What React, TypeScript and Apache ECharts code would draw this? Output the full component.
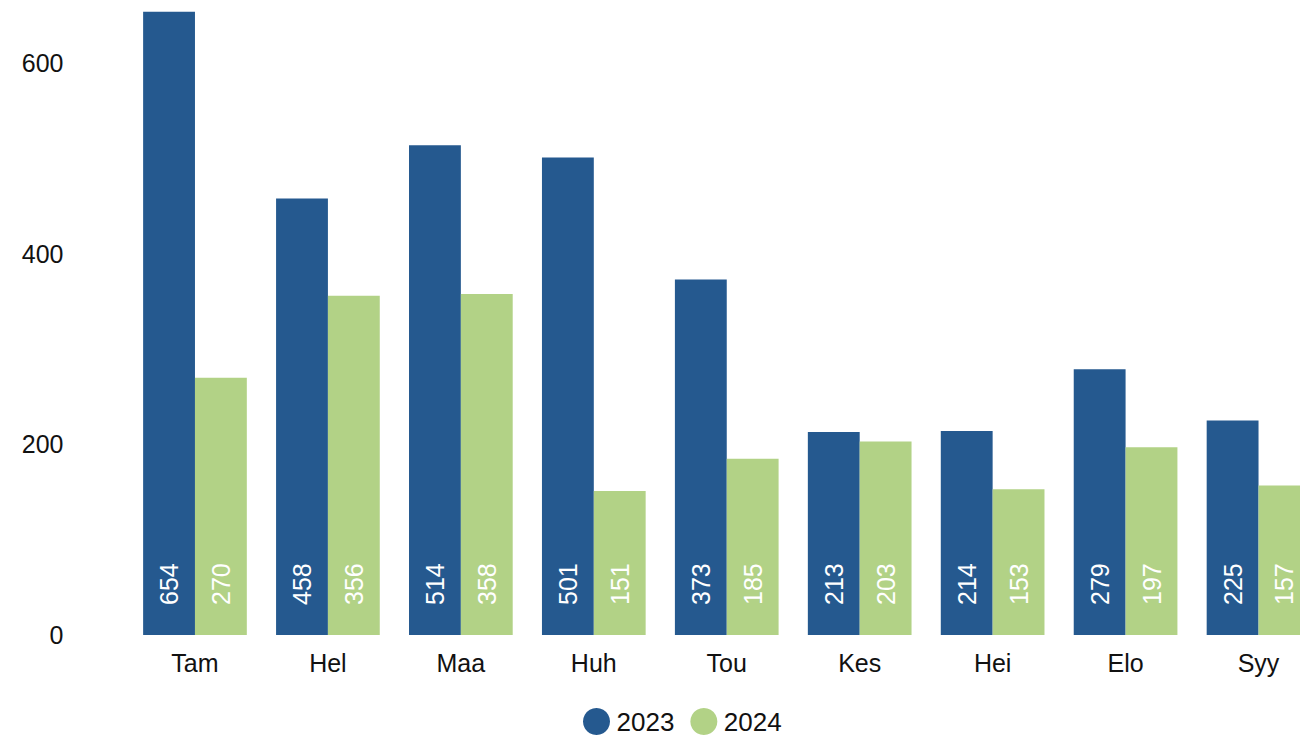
import React, { useEffect, useRef } from "react";
import * as echarts from "echarts";

const categories = ["Tam", "Hel", "Maa", "Huh", "Tou", "Kes", "Hei", "Elo", "Syy"];
const series2023 = [654, 458, 514, 501, 373, 213, 214, 279, 225];
const series2024 = [270, 356, 358, 151, 185, 203, 153, 197, 157];
const yTicks = { min: 0, max: 700, interval: 200 };

const FONT = "'Liberation Sans', Arial, sans-serif";
const BLUE = "#25598f";
const GREEN = "#b2d286";

// The reference chart is larger than the visible window: it is cropped at the top and right.
const OFFSET_TOP = 32;

export default function App() {
  const ref = useRef<HTMLDivElement>(null);
  useEffect(() => {
    if (!ref.current) return;
    const chart = echarts.init(ref.current, null, { renderer: "svg" });
    const label = {
      show: true,
      position: "insideBottom",
      rotate: 90,
      align: "left",
      verticalAlign: "middle",
      distance: 30,
      color: "#ffffff",
      fontSize: 25,
      fontFamily: FONT,
    };
    chart.setOption({
      animation: false,
      textStyle: { fontFamily: FONT },
      grid: {
        left: 128.5,
        right: 0,
        top: 0,
        bottom: 103,
        containLabel: false,
        outerBoundsMode: "none",
      },
      legend: {
        left: 578,
        top: 703 + OFFSET_TOP,
        icon: "circle",
        itemWidth: 30,
        itemHeight: 27,
        itemGap: 16,
        textStyle: { fontSize: 26, color: "#111", fontFamily: FONT },
        data: ["2023", "2024"],
      },
      xAxis: {
        type: "category",
        data: categories,
        axisLine: { show: false },
        axisTick: { show: false },
        axisLabel: { fontSize: 25, color: "#111", margin: 15, fontFamily: FONT },
      },
      yAxis: {
        type: "value",
        min: yTicks.min,
        max: yTicks.max,
        interval: yTicks.interval,
        splitLine: { show: false },
        axisLine: { show: false },
        axisTick: { show: false },
        axisLabel: {
          fontSize: 25,
          color: "#111",
          margin: 65,
          fontFamily: FONT,
          showMaxLabel: false,
        },
      },
      series: [
        {
          name: "2023",
          type: "bar",
          data: series2023,
          itemStyle: { color: BLUE },
          barGap: "0%",
          barCategoryGap: "22%",
          label,
        },
        {
          name: "2024",
          type: "bar",
          data: series2024,
          itemStyle: { color: GREEN },
          barGap: "0%",
          barCategoryGap: "22%",
          label,
        },
      ],
    });
    return () => chart.dispose();
  }, []);
  return (
    <div
      ref={ref}
      style={{
        position: "fixed",
        left: 0,
        top: -OFFSET_TOP,
        width: 1325,
        height: 738 + OFFSET_TOP,
        background: "#fff",
      }}
    />
  );
}
